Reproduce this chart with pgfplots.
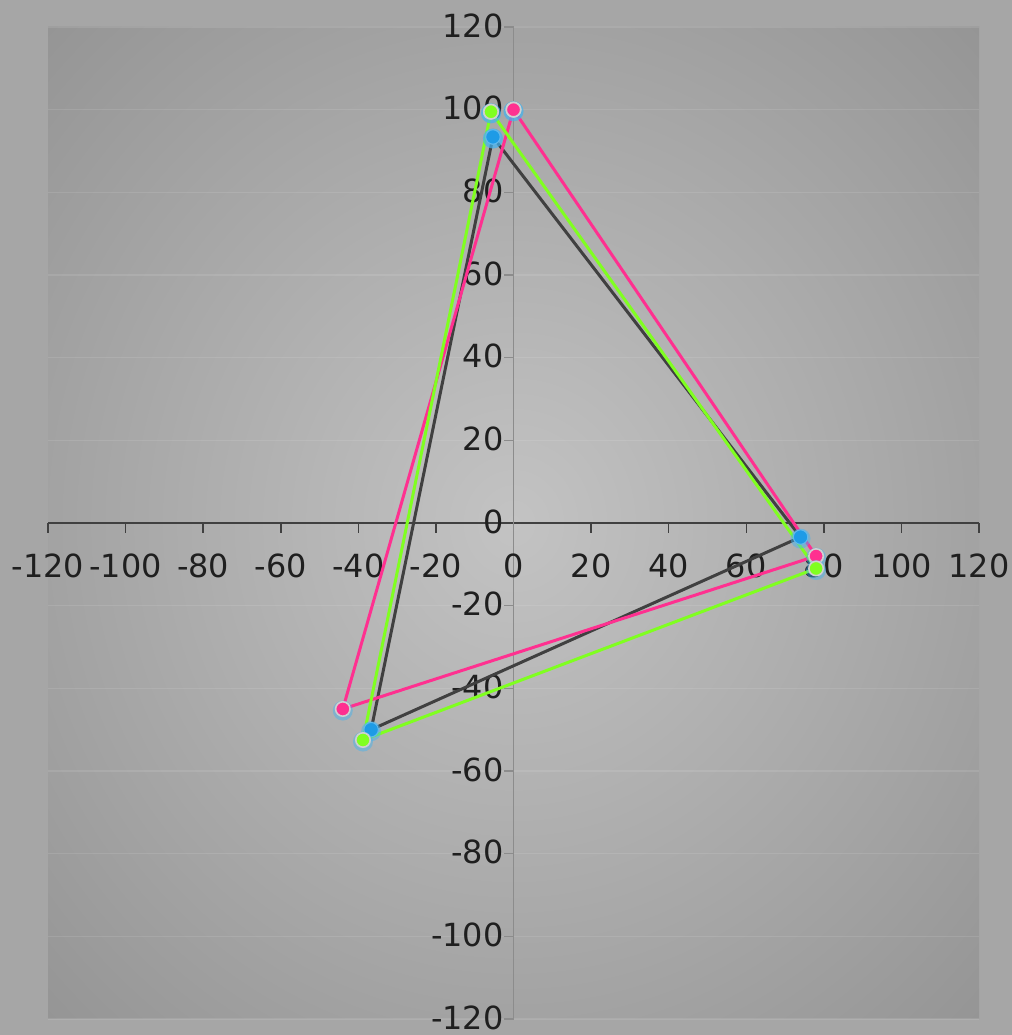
\documentclass[border=0pt]{standalone}
\usepackage{pgfplots}
\pgfplotsset{compat=1.18}
\usepackage{fontspec}
\setmainfont{DejaVu Sans}
\definecolor{outerbg}{HTML}{A6A6A6}
\definecolor{bgin}{HTML}{C3C3C3}
\definecolor{bgout}{HTML}{959595}
\definecolor{darkser}{HTML}{404040}
\definecolor{pinkser}{HTML}{FF3090}
\definecolor{greenser}{HTML}{80FF20}
\definecolor{bluemk}{HTML}{1E9BE6}
\definecolor{glow}{HTML}{40B4F2}
\definecolor{mkborder}{HTML}{D0D0D0}
\pgfdeclareradialshading{plotbg}{\pgfpoint{0bp}{0bp}}{color(0bp)=(bgin); color(35.4bp)=(bgout); color(50bp)=(bgout)}
\pgfplotstableread{
x y
-5.3 93.4
74 -3.4
-36.7 -50
-5.3 93.4
}\darkdata
\pgfplotstableread{
x y
0 100
78 -8
-44 -45
0 100
}\pinkdata
\pgfplotstableread{
x y
-5.8 99.5
78 -11
-38.8 -52.5
-5.8 99.5
}\greendata
\pgfplotsset{
  glowplot/.style={only marks, mark=*, mark size=5bp, color=glow,
    mark options={draw=glow, draw opacity=0, fill=glow, fill opacity=0.45, line width=0pt, yshift=-0.8bp}},
}
\begin{document}
\begin{tikzpicture}
\fill[outerbg] (-24bp,-8bp) rectangle (482bp,509.5bp);
\useasboundingbox (-24bp,-8bp) rectangle (482bp,509.5bp);
\begin{axis}[
  at={(0,0)}, anchor=south west,
  scale only axis, width=465.5bp, height=496bp,
  xmin=-120, xmax=120, ymin=-120, ymax=120,
  enlargelimits=false,
  axis lines=middle,
  axis line style={-},
  x axis line style={draw=darkser, line width=0.75bp},
  y axis line style={draw=black!45, line width=0.75bp},
  xtick={-120,-100,...,120},
  ytick={-120,-100,...,120},
  hide obscured x ticks=false, hide obscured y ticks=false,
  tick align=outside,
  major tick length=5bp,
  xtick style={draw=darkser, line width=0.75bp},
  ytick style={draw=black!45, line width=0.75bp},
  ymajorgrids, xmajorgrids=false,
  grid style={draw=white, opacity=0.1, line width=0.75bp},
  axis background/.style={shading=plotbg},
  /pgf/number format/assume math mode=true,
  ticklabel style={font=\fontsize{16}{19}\selectfont, text=black!88},
  xticklabel style={yshift=-7bp},
  yticklabel style={xshift=3.5bp, yshift=0.8bp},
  clip=false,
]
% dark series
\addplot[glowplot] table[x=x,y=y] {\darkdata};
\addplot[darkser, line width=1.5bp, mark=*, mark size=3.6bp, mark options={fill=bluemk, draw=bluemk!70!white, line width=0.5bp}] table[x=x,y=y] {\darkdata};
% pink series
\addplot[glowplot] table[x=x,y=y] {\pinkdata};
\addplot[pinkser, line width=1.5bp, mark=*, mark size=3.6bp, mark options={fill=pinkser, draw=mkborder, line width=0.8bp}] table[x=x,y=y] {\pinkdata};
% green series
\addplot[glowplot] table[x=x,y=y] {\greendata};
\addplot[greenser, line width=1.5bp, mark=*, mark size=3.6bp, mark options={fill=greenser, draw=mkborder, line width=0.8bp}] table[x=x,y=y] {\greendata};
\end{axis}
\end{tikzpicture}
\end{document}
